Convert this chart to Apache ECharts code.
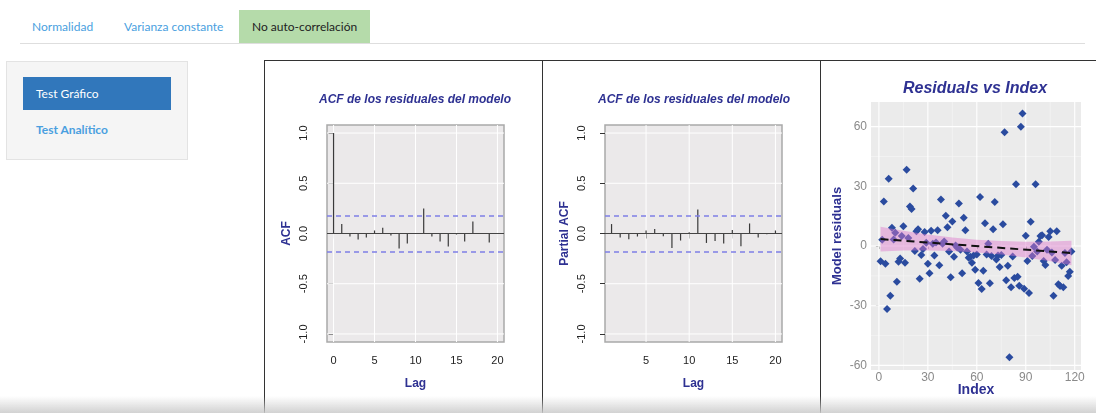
<!DOCTYPE html>
<html><head><meta charset="utf-8">
<script src="https://cdn.jsdelivr.net/npm/echarts@6/dist/echarts.min.js"></script>
<style>
html,body{margin:0;padding:0}
body{width:1096px;height:413px;overflow:hidden;background:#fff;position:relative;font-family:Lato,'Open Sans',sans-serif}
.tabline{position:absolute;left:20px;top:43px;width:1065px;height:1px;background:#dedede}
.tab{position:absolute;top:10px;height:33px;line-height:34px;font-size:12px;color:#4a9fe0;white-space:nowrap}
.tab.active{background:#b5dbaa;color:#222;padding:0 13px;box-sizing:border-box}
.side{position:absolute;left:6px;top:61px;width:182px;height:99px;background:#f5f5f5;border:1px solid #e3e3e3;box-sizing:border-box}
.btn{position:absolute;left:16px;top:15px;width:148px;height:33px;background:#3177bb;color:#fff;font-size:12px;line-height:33px;padding-left:13px;box-sizing:border-box}
.link{position:absolute;left:29px;top:58px;font-size:12px;color:#4a9fe0;font-weight:bold;line-height:20px}
#chart{position:absolute;left:264px;top:60px;width:832px;height:353px}
.frame{position:absolute;left:264px;top:60px;width:840px;height:360px;border-left:1px solid #333;border-top:1px solid #333;pointer-events:none}
.vdiv{position:absolute;top:60px;width:1px;height:360px;background:#333;pointer-events:none}
.shade{position:absolute;left:0;top:396px;width:1096px;height:17px;background:linear-gradient(to bottom,rgba(255,255,255,0),rgba(205,205,205,0.9));pointer-events:none}
</style>
</head><body>
<div class="tab" style="left:32px">Normalidad</div>
<div class="tab" style="left:124px">Varianza constante</div>
<div class="tab active" style="left:239px;width:131px">No auto-correlación</div>
<div class="tabline"></div>
<div class="side"><div class="btn">Test Gráfico</div><div class="link">Test Analítico</div></div>
<div id="chart"></div>
<div class="frame"></div>
<div class="vdiv" style="left:542px"></div>
<div class="vdiv" style="left:820px"></div>
<div class="shade"></div>
<script>
// ---- data ----
const acfLags = [0,1,2,3,4,5,6,7,8,9,10,11,12,13,14,15,16,17,18,19,20];
const acfValues = [1.0,0.094,-0.03,-0.06,-0.04,0.03,0.057,-0.02,-0.15,-0.10,0.005,0.25,-0.03,-0.08,-0.13,-0.01,-0.08,0.12,-0.005,-0.09,0.0];
const pacfLags = [1,2,3,4,5,6,7,8,9,10,11,12,13,14,15,16,17,18,19,20];
const pacfValues = [0.094,-0.04,-0.057,-0.03,0.03,0.044,-0.027,-0.144,-0.07,0.013,0.238,-0.094,-0.074,-0.10,0.034,-0.127,0.10,-0.04,-0.007,0.03];
const confLimit = 0.18;
const acfTicksX = [0,5,10,15,20];
const pacfTicksX = [5,10,15,20];
const acfTicksY = [-1,-0.5,0,0.5,1];

const residIndex = [1,2,3,4,5,6,7,8,9,10,11,12,13,14,15,16,17,18,19,20,21,22,23,24,25,26,27,28,29,30,31,32,33,34,35,36,37,38,39,40,41,42,43,44,45,46,47,48,49,50,51,52,53,54,55,56,57,58,59,60,61,62,63,64,65,66,67,68,69,70,71,72,73,74,75,76,77,78,79,80,81,82,83,84,85,86,87,88,89,90,91,92,93,94,95,96,97,98,99,100,101,102,103,104,105,106,107,108,109,110,111,112,113,114,115,116,117,118];
const residValues = [-7.7,3.2,22.4,-8.9,-31.6,33.8,-25,9.2,3.3,6.7,-18,-7.9,-6.2,5,9.9,-8.4,38.3,4,19.9,18.6,28.9,-2.5,7.5,8.5,-16.4,-4.5,-1.5,7,1.7,-8.9,-13.7,7.7,1.2,-4.7,1.8,8,-9.7,23.4,1.2,2.3,15.2,9.4,-2.7,-15.7,12.4,-5.4,0.3,-0.7,21.4,-1.8,-13.7,14.2,8,-2.8,-5.9,-5.4,-8.4,-4.8,-11.9,-4.3,-18.6,24.6,-21.6,-12.4,11.5,-4.3,1.2,-18.7,-5,8.5,22.2,-6.7,-4.7,-10.5,-4.5,10.9,57.2,-17.2,-9.9,-55.9,-20.7,-5.2,-16.1,31.1,-15.4,-19.9,60,66.6,-21.4,5.2,-7.5,-23.6,12.2,-5,-0.3,31.1,-2.8,2.2,5,5.4,-7.5,-9.5,-1.8,4.5,7.4,-3.2,-25,-7,7.4,-19.2,-20.1,-9.9,-20.7,-3.5,-8.2,-15,-12.9,-2.7];
const residTicksX = [0,30,60,90,120];
const residTicksY = [-60,-30,0,30,60];
const residMinorX = [15,45,75,105];
const residMinorY = [-45,-15,15,45];
const bandX = [1,15,30,45,60,75,90,105,118];
const bandUpper = [9.7,7.7,5.8,4.3,3.2,2.5,2.2,2.3,2.7];
const bandLower = [-2.7,-2.3,-2.2,-2.5,-3.2,-4.3,-5.8,-7.7,-9.7];
const fitX = [1,118];
const fitY = [3.5,-3.5];

// ---- styles ----
const RF = "'Liberation Sans', Arial, sans-serif";
const NAVY = '#2e3192';
const acfXRange = [-0.8,20.8], pacfXRange = [0.24,20.76], acfYRange = [-1.08,1.08];
const resXRange = [-4.85,123.85], resYRange = [-62.3,72.4];

function gridLines(xi, xs, ys, xr, yr, color, width, z){
  const items = xs.map(v=>['x',v]).concat(ys.map(v=>['y',v]));
  return {type:'custom', xAxisIndex:xi, yAxisIndex:xi, z:z, silent:true,
    data: items.map(()=>[xr[0], yr[0]]),
    renderItem:function(params, api){
      const d = items[params.dataIndex];
      let p1,p2;
      if(d[0]==='x'){p1=api.coord([d[1],yr[0]]);p2=api.coord([d[1],yr[1]]);}
      else {p1=api.coord([xr[0],d[1]]);p2=api.coord([xr[1],d[1]]);}
      return {type:'line', shape:{x1:p1[0],y1:p1[1],x2:p2[0],y2:p2[1]}, style:{stroke:color,lineWidth:width}};
    }};
}

function rXAxis(gi, range, ticks, name){
  return {type:'value', gridIndex:gi, min:range[0], max:range[1],
    axisLine:{show:false}, splitLine:{show:false},
    axisTick:{show:true, customValues:ticks, length:5, lineStyle:{color:'#333'}},
    axisLabel:{customValues:ticks, color:'#222', fontSize:11, fontFamily:RF, margin:13, formatter:v=>String(v)},
    name:name, nameLocation:'middle', nameGap:36, nameMoveOverlap:false,
    nameTextStyle:{color:NAVY, fontWeight:'bold', fontSize:12, fontFamily:RF}};
}
function rYAxis(gi, name){
  return {type:'value', gridIndex:gi, min:acfYRange[0], max:acfYRange[1],
    axisLine:{show:false}, splitLine:{show:false},
    axisTick:{show:true, customValues:acfTicksY, length:5, lineStyle:{color:'#333'}},
    axisLabel:{customValues:acfTicksY, rotate:90, color:'#222', fontSize:11, fontFamily:RF, margin:18, formatter:v=>v.toFixed(1)},
    name:name, nameLocation:'middle', nameGap:34, nameMoveOverlap:false,
    nameTextStyle:{color:NAVY, fontWeight:'bold', fontSize:12, fontFamily:RF}};
}
function stems(gi, lags, vals){
  return {type:'bar', xAxisIndex:gi, yAxisIndex:gi, z:3, barWidth:1.2, silent:true,
    itemStyle:{color:'#3a3a3a'},
    data: lags.map((l,i)=>[l, vals[i]]),
    markLine:{silent:true, symbol:'none', label:{show:false}, animation:false,
      data:[{yAxis:0, lineStyle:{color:'#444', type:'solid', width:1}},
            {yAxis:confLimit, lineStyle:{color:'#7f7fe6', type:[5,4], width:1.5}},
            {yAxis:-confLimit, lineStyle:{color:'#7f7fe6', type:[5,4], width:1.5}}]}};
}

const chart = echarts.init(document.getElementById('chart'), null, {renderer:'canvas'});
const option = {
  animation:false,
  graphic:[
    {type:'text', x:151, y:40, style:{text:'ACF de los residuales del modelo', fill:NAVY, font:"italic bold 12px "+RF, textAlign:'center', textVerticalAlign:'middle'}},
    {type:'text', x:430, y:40, style:{text:'ACF de los residuales del modelo', fill:NAVY, font:"italic bold 12px "+RF, textAlign:'center', textVerticalAlign:'middle'}},
    {type:'text', x:711, y:29, style:{text:'Residuals vs Index', fill:NAVY, font:"italic bold 16px "+RF, textAlign:'center', textVerticalAlign:'middle'}}
  ],
  grid:[
    {left:63, top:65, width:177, height:217, show:true, backgroundColor:'#ebe9ea', borderColor:'#a9a9a9', borderWidth:1.5},
    {left:341, top:65, width:177, height:217, show:true, backgroundColor:'#ebe9ea', borderColor:'#a9a9a9', borderWidth:1.5},
    {left:607, top:42, width:210, height:268, show:true, backgroundColor:'#ebebeb', borderWidth:0}
  ],
  xAxis:[
    rXAxis(0, acfXRange, acfTicksX, 'Lag'),
    rXAxis(1, pacfXRange, pacfTicksX, 'Lag'),
    {type:'value', gridIndex:2, min:resXRange[0], max:resXRange[1],
      axisLine:{show:false}, splitLine:{show:false},
      axisTick:{show:true, customValues:residTicksX, length:3, lineStyle:{color:'#8a8a8a'}},
      axisLabel:{customValues:residTicksX, color:'#8a8a8a', fontSize:12, fontFamily:RF, margin:2},
      name:'Index', nameLocation:'middle', nameGap:13, nameMoveOverlap:false,
      nameTextStyle:{color:NAVY, fontWeight:'bold', fontSize:14, fontFamily:RF}}
  ],
  yAxis:[
    rYAxis(0, 'ACF'),
    rYAxis(1, 'Partial ACF'),
    {type:'value', gridIndex:2, min:resYRange[0], max:resYRange[1],
      axisLine:{show:false}, splitLine:{show:false},
      axisTick:{show:true, customValues:residTicksY, length:3, lineStyle:{color:'#8a8a8a'}},
      axisLabel:{customValues:residTicksY, color:'#8a8a8a', fontSize:12, fontFamily:RF, margin:4},
      name:'Model residuals', nameLocation:'middle', nameGap:27, nameMoveOverlap:false,
      nameTextStyle:{color:NAVY, fontWeight:'bold', fontSize:13, fontFamily:RF}}
  ],
  series:[
    gridLines(0, acfTicksX, acfTicksY, acfXRange, acfYRange, '#ffffff', 1, 1),
    gridLines(1, pacfTicksX, acfTicksY, pacfXRange, acfYRange, '#ffffff', 1, 1),
    gridLines(2, residMinorX, residMinorY, resXRange, resYRange, '#f6f6f6', 0.6, 1),
    gridLines(2, residTicksX, residTicksY, resXRange, resYRange, '#ffffff', 1.1, 1),
    stems(0, acfLags, acfValues),
    stems(1, pacfLags, pacfValues),
    {type:'scatter', xAxisIndex:2, yAxisIndex:2, z:3, symbol:'diamond', symbolSize:[8,8],
      itemStyle:{color:'#2a4b9f', opacity:1}, data: residIndex.map((x,i)=>[x, residValues[i]])},
    {type:'custom', xAxisIndex:2, yAxisIndex:2, z:4, silent:true, data:[[bandX[0], bandUpper[0]]],
      renderItem:function(params, api){
        const pts=[];
        for(let i=0;i<bandX.length;i++) pts.push(api.coord([bandX[i], bandUpper[i]]));
        for(let i=bandX.length-1;i>=0;i--) pts.push(api.coord([bandX[i], bandLower[i]]));
        return {type:'polygon', shape:{points:pts}, style:{fill:'rgba(222,120,205,0.45)'}};
      }},
    {type:'line', xAxisIndex:2, yAxisIndex:2, z:5, silent:true, symbol:'none',
      lineStyle:{color:'#111', width:2, type:[8,5]}, data: fitX.map((x,i)=>[x, fitY[i]])}
  ]
};
chart.setOption(option);
</script>
</body></html>
